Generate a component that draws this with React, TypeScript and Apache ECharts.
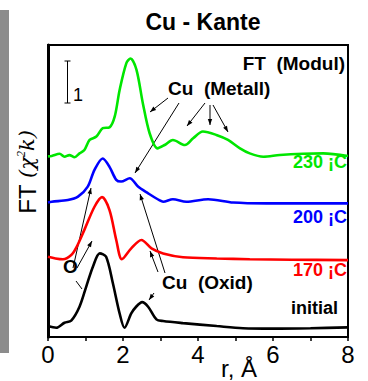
import React, { useEffect, useRef } from "react";
import * as echarts from "echarts";

// r in Å
const rInitial = [0, 0.22, 0.44, 0.62, 0.84, 1.02, 1.2, 1.38, 1.55, 1.73, 1.91, 2.04, 2.22, 2.35, 2.51, 2.67, 2.89, 3.07, 3.6, 4.5, 5.2, 6, 7, 8];
const ftInitial = [0.26, 0.22, 0.34, 0.39, 0.72, 1.2, 1.68, 1.99, 1.91, 1.28, 0.56, 0.22, 0.56, 0.72, 0.83, 0.72, 0.42, 0.38, 0.33, 0.26, 0.21, 0.2, 0.21, 0.23];

const r170 = [0, 0.2, 0.4, 0.62, 0.75, 0.97, 1.24, 1.44, 1.64, 1.82, 1.97, 2.22, 2.49, 2.76, 3.07, 3.6, 4.5, 5.38, 6.5, 8];
const ft170 = [1.91, 1.87, 1.85, 1.95, 2.12, 2.55, 3.1, 3.33, 3.02, 2.31, 1.85, 2.11, 2.31, 2.11, 1.99, 1.9, 1.87, 1.85, 1.84, 1.83];

const r200 = [0, 0.1, 0.53, 0.8, 1.06, 1.24, 1.46, 1.64, 1.82, 1.95, 2.18, 2.4, 2.67, 2.98, 3.07, 3.33, 3.69, 4.27, 4.94, 5.83, 7, 8];
const ft200 = [3.2, 3.22, 3.26, 3.34, 3.58, 3.98, 4.25, 4.05, 3.74, 3.7, 3.78, 3.58, 3.42, 3.25, 3.22, 3.28, 3.22, 3.28, 3.2, 3.18, 3.18, 3.18];

const r230 = [0, 0.1, 0.31, 0.44, 0.57, 0.71, 0.84, 0.97, 1.11, 1.29, 1.46, 1.64, 1.78, 1.91, 2.09, 2.2, 2.36, 2.53, 2.71, 2.92, 3.11, 3.33, 3.65, 3.87, 4.13, 4.49, 4.8, 5.12, 5.38, 5.74, 6.18, 6.8, 7.34, 8];
const ft230 = [4.3, 4.31, 4.36, 4.29, 4.33, 4.28, 4.37, 4.45, 4.69, 4.77, 4.97, 4.99, 5.25, 5.88, 6.52, 6.63, 6.36, 5.56, 4.85, 4.49, 4.57, 4.69, 4.57, 4.73, 4.89, 4.81, 4.69, 4.49, 4.37, 4.29, 4.33, 4.36, 4.37, 4.31];

const seriesNames = ["initial", "170 ¡C", "200 ¡C", "230 ¡C"];
const seriesColors = ["#000000", "#ff0000", "#0000ff", "#00e600"];
const xTicks = [0, 2, 4, 6, 8];

const FONT = "Liberation Sans, Arial, sans-serif";

function arrow(x1: number, y1: number, x2: number, y2: number, head = true) {
  const els: any[] = [
    { type: "line", shape: { x1, y1, x2, y2 }, style: { stroke: "#000", lineWidth: 1 } },
  ];
  if (head) {
    const dx = x2 - x1, dy = y2 - y1;
    const len = Math.sqrt(dx * dx + dy * dy);
    const ux = dx / len, uy = dy / len;
    const L = 6, W = 2.2;
    const bx = x2 - ux * L, by = y2 - uy * L;
    els.push({
      type: "polygon",
      shape: { points: [[x2, y2], [bx - uy * W, by + ux * W], [bx + uy * W, by - ux * W]] },
      style: { fill: "#000" },
    });
  }
  return els;
}

export default function App() {
  const ref = useRef<HTMLDivElement>(null);
  useEffect(() => {
    if (!ref.current) return;
    const chart = echarts.init(ref.current, null, { renderer: "svg" });
    const datasets = [
      [rInitial, ftInitial],
      [r170, ft170],
      [r200, ft200],
      [r230, ft230],
    ];
    const series = datasets.map(([xs, ys], i) => ({
      type: "line",
      name: seriesNames[i],
      data: xs.map((x, j) => [x, ys[j]]),
      smooth: 0.3,
      showSymbol: false,
      lineStyle: { color: seriesColors[i], width: 2.6 },
      itemStyle: { color: seriesColors[i] },
      z: 3,
    }));

    const labelText = (text: string, x: number, y: number, color: string, size: number, align = "left", weight = "bold") => ({
      type: "text",
      x,
      y,
      style: { text, fill: color, font: `${weight} ${size}px ${FONT}`, align, verticalAlign: "middle" },
      z: 10,
    });

    const graphics: any[] = [
      { type: "rect", shape: { x: 0, y: 10, width: 9, height: 343 }, style: { fill: "#8c8c8c" }, z: 0 },
      labelText("Cu - Kante", 203, 22, "#000", 23, "center"),
      labelText("FT  (Modul)", 345, 63, "#000", 19, "right"),
      labelText("Cu  (Metall)", 168, 88, "#000", 19, "left"),
      labelText("230 ¡C", 347, 162, seriesColors[3], 18, "right"),
      labelText("200 ¡C", 347, 217, seriesColors[2], 18, "right"),
      labelText("170 ¡C", 347, 270, seriesColors[1], 18, "right"),
      labelText("initial", 338, 308, "#000", 18, "right"),
      labelText("Cu  (Oxid)", 162, 282, "#000", 19, "left"),
      labelText("O", 63, 266, "#000", 19, "left"),
      labelText("1", 73, 95, "#000", 18, "left", "normal"),
      labelText("r, Å", 239, 368, "#000", 24, "center", "normal"),
      {
        type: "text",
        x: 27,
        y: 172,
        rotation: Math.PI / 2,
        style: {
          text: "{a|FT }{b|(χ}{s|2}{b|k)}",
          align: "center",
          verticalAlign: "middle",
          rich: {
            a: { font: `normal 24px ${FONT}`, fill: "#000" },
            b: { font: `italic 21px "DejaVu Serif", "Liberation Serif", serif`, fill: "#000" },
            s: { font: `italic 12px "Liberation Serif", serif`, fill: "#000", verticalAlign: "top", padding: [0, 0, 8, 0] },
          },
        },
        z: 10,
      },
      // scale bar
      { type: "line", shape: { x1: 67.5, y1: 61, x2: 67.5, y2: 103 }, style: { stroke: "#000", lineWidth: 1 } },
      { type: "line", shape: { x1: 64.5, y1: 61, x2: 70.5, y2: 61 }, style: { stroke: "#000", lineWidth: 1 } },
      { type: "line", shape: { x1: 64.5, y1: 103, x2: 70.5, y2: 103 }, style: { stroke: "#000", lineWidth: 1 } },
      ...arrow(168, 98, 150, 112),
      ...arrow(179, 103, 135, 173),
      ...arrow(205, 103, 187, 126),
      ...arrow(210, 105, 210, 125),
      ...arrow(213, 105, 228, 132),
      ...arrow(73, 268, 91, 188),
      ...arrow(77, 268, 92, 241),
      ...arrow(76, 281, 82, 289, false),
      ...arrow(165, 273, 140, 194),
      ...arrow(158, 272, 150, 251),
      ...arrow(154, 293, 149, 300),
    ];

    chart.setOption({
      animation: false,
      grid: { left: 48, right: 20, top: 45, bottom: 44, show: true, borderColor: "#000", borderWidth: 2, backgroundColor: "transparent" },
      xAxis: {
        type: "value",
        min: 0,
        max: 8,
        interval: 1,
        axisLine: { show: true, lineStyle: { color: "#000", width: 2 } },
        axisTick: { show: true, inside: false, length: 4, lineStyle: { color: "#000", width: 1.5 } },
        axisLabel: {
          color: "#000",
          fontSize: 24,
          fontFamily: FONT,
          margin: 5,
          formatter: (v: number) => (xTicks.includes(v) ? String(v) : ""),
        },
        splitLine: { show: false },
      },
      yAxis: {
        type: "value",
        min: 0,
        max: 6.95,
        axisLine: { show: true, lineStyle: { color: "#000", width: 3 } },
        axisTick: { show: false },
        axisLabel: { show: false },
        splitLine: { show: false },
      },
      series,
      graphic: graphics,
    });
    return () => chart.dispose();
  }, []);
  return <div ref={ref} style={{ position: "absolute", left: 0, top: 0, width: 368, height: 381 }} />;
}
